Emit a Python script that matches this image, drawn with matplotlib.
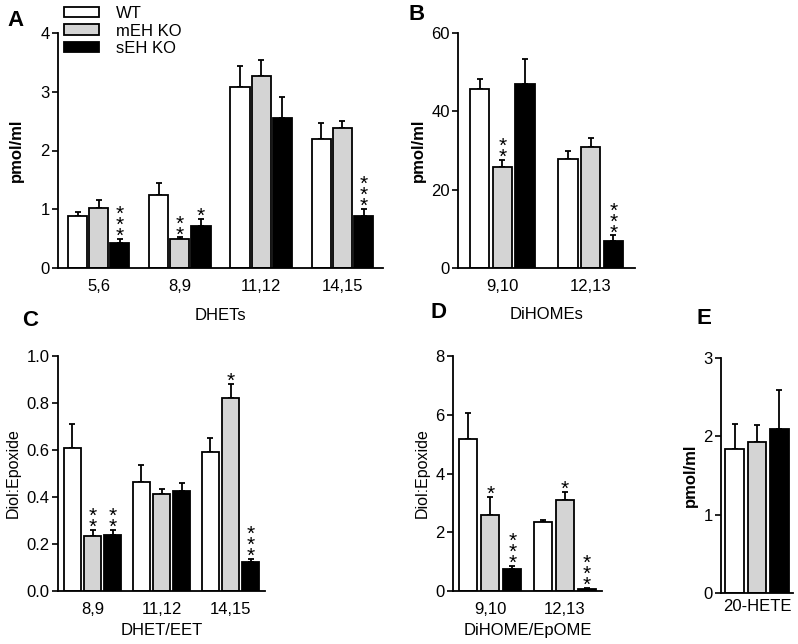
import numpy as np
import matplotlib
matplotlib.use("Agg")
import matplotlib.pyplot as plt
from matplotlib.patches import Patch

plt.rcParams['font.family'] = ['Liberation Sans', 'DejaVu Sans']

groups = ["WT", "mEH KO", "sEH KO"]
colors = ["white", "#d4d4d4", "black"]

# A: DHETs (pmol/ml)
a_labels = ["5,6", "8,9", "11,12", "14,15"]
a_mean = [[0.89, 1.25, 3.08, 2.20], [1.02, 0.50, 3.27, 2.38], [0.43, 0.72, 2.56, 0.89]]
a_err = [[0.06, 0.20, 0.36, 0.26], [0.13, 0.02, 0.27, 0.13], [0.06, 0.12, 0.35, 0.11]]
a_sig = [["", "", "", ""], ["", "**", "", ""], ["***", "*", "", "***"]]

# B: DiHOMEs (pmol/ml)
b_labels = ["9,10", "12,13"]
b_mean = [[45.6, 27.9], [25.8, 30.8], [47.1, 7.0]]
b_err = [[2.7, 2.1], [1.7, 2.5], [6.3, 1.3]]
b_sig = [["", ""], ["**", ""], ["", "***"]]

# C: DHET/EET ratio
c_labels = ["8,9", "11,12", "14,15"]
c_mean = [[0.609, 0.462, 0.591], [0.233, 0.413, 0.820], [0.239, 0.425, 0.125]]
c_err = [[0.100, 0.073, 0.060], [0.028, 0.022, 0.062], [0.022, 0.034, 0.011]]
c_sig = [["", "", ""], ["**", "", "*"], ["**", "", "***"]]

# D: DiHOME/EpOME ratio
d_labels = ["9,10", "12,13"]
d_mean = [[5.19, 2.35], [2.60, 3.10], [0.76, 0.07]]
d_err = [[0.86, 0.08], [0.60, 0.28], [0.08, 0.02]]
d_sig = [["", ""], ["*", "*"], ["***", "***"]]

# E: 20-HETE (pmol/ml)
e_labels = ["20-HETE"]
e_mean = [[1.835], [1.93], [2.10]]
e_err = [[0.32], [0.22], [0.49]]
e_sig = [[""], [""], [""]]

W, H = 798, 644
fig = plt.figure(figsize=(W / 100, H / 100), dpi=100)


def px_axes(x0, x1, y0, y1):
    # y0 = top pixel, y1 = bottom pixel
    return fig.add_axes([x0 / W, (H - y1) / H, (x1 - x0) / W, (y1 - y0) / H])


def panel(ax, labels, means, errs, sigs, offset, width, yticks, ylabel, ybold,
          xlabel=None, yfmt="{:g}", xlabelpad=6):
    x = np.arange(len(labels))
    for k in range(3):
        xs = x + (k - 1) * offset
        ax.bar(xs, means[k], width, color=colors[k], edgecolor="black",
               linewidth=1.3, zorder=2)
        ax.errorbar(xs, means[k], yerr=[np.zeros(len(labels)), errs[k]],
                    fmt="none", ecolor="black", elinewidth=1.3, capsize=2.5,
                    capthick=1.3, zorder=1)
        for i, s in enumerate(sigs[k]):
            if not s:
                continue
            top = means[k][i] + errs[k][i]
            ax.annotate("\n".join(s), xy=(xs[i], top), xytext=(0, -5),
                        textcoords="offset points", ha="center",
                        va="bottom", fontsize=15, linespacing=0.47)
    ax.set_xlim(-0.5, len(labels) - 0.5)
    ax.set_ylim(yticks[0], yticks[-1])
    ax.set_yticks(yticks)
    ax.set_yticklabels([yfmt.format(t) for t in yticks])
    ax.set_xticks(x)
    ax.set_xticklabels(labels)
    ax.tick_params(axis="x", length=0, pad=8, labelsize=12)
    ax.tick_params(axis="y", length=4, width=1.2, pad=2, labelsize=12)
    for s in ["top", "right"]:
        ax.spines[s].set_visible(False)
    for s in ["left", "bottom"]:
        ax.spines[s].set_linewidth(1.3)
    ax.set_ylabel(ylabel, fontsize=12 if ybold else 11.5,
                  fontweight="bold" if ybold else "normal")
    if xlabel:
        ax.set_xlabel(xlabel, fontsize=12, labelpad=xlabelpad)


axA = px_axes(58, 383, 33, 268)
panel(axA, a_labels, a_mean, a_err, a_sig, 0.26, 0.235, [0, 1, 2, 3, 4],
      "pmol/ml", True, "DHETs", xlabelpad=10)
axA.yaxis.labelpad = 12

axB = px_axes(458, 635, 33, 268)
panel(axB, b_labels, b_mean, b_err, b_sig, 0.257, 0.215, [0, 20, 40, 60],
      "pmol/ml", True, "DiHOMEs", xlabelpad=9)

axC = px_axes(58, 265, 356, 591)
panel(axC, c_labels, c_mean, c_err, c_sig, 0.29, 0.246,
      [0.0, 0.2, 0.4, 0.6, 0.8, 1.0], "Diol:Epoxide", False, "DHET/EET",
      yfmt="{:.1f}", xlabelpad=4)

axD = px_axes(453, 602, 356, 591)
panel(axD, d_labels, d_mean, d_err, d_sig, 0.297, 0.243, [0, 2, 4, 6, 8],
      "Diol:Epoxide", False, "DiHOME/EpOME", xlabelpad=4)

axE = px_axes(721, 793, 358, 593)
panel(axE, e_labels, e_mean, e_err, e_sig, 0.31, 0.26, [0, 1, 2, 3],
      "pmol/ml", True)
axE.tick_params(axis="x", pad=4)

handles = [Patch(facecolor=c, edgecolor="black", linewidth=1.3) for c in colors]
fig.legend(handles, groups, loc="upper left", bbox_to_anchor=(64 / W, 1 - 6 / H),
           frameon=False, fontsize=12, handlelength=2.1, handleheight=0.6,
           handletextpad=1.0, labelspacing=0.15, borderpad=0, borderaxespad=0)

for letter, xp, yp in [("A", 7, 20), ("B", 408, 15), ("C", 22, 320),
                       ("D", 430, 312), ("E", 697, 318)]:
    fig.text(xp / W, 1 - yp / H, letter, fontsize=16, fontweight="bold",
             va="center", ha="left")

fig.savefig("out.png", dpi=100)
